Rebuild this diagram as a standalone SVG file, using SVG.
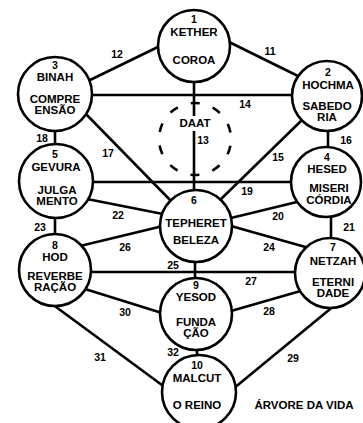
<svg xmlns="http://www.w3.org/2000/svg" width="363" height="423" viewBox="0 0 363 423">
<style>
.n{fill:#fff;stroke:#000;stroke-width:2.6}
.c line{stroke:#000;stroke-width:2.6}
text{font-family:"Liberation Sans",Arial,sans-serif;font-weight:bold;fill:#000;text-anchor:middle}
.t{font-size:11.5px}
.k{font-size:10.5px}
.l{font-size:10.5px}
</style>
<rect width="363" height="423" fill="#fff"/>
<g class="c" id="connectors">
<line x1="225" y1="40" x2="300" y2="77"/>
<line x1="162" y1="45" x2="88" y2="81"/>
<line x1="85" y1="95" x2="295" y2="95"/>
<line x1="194" y1="80" x2="194" y2="116"/>
<line x1="194" y1="131" x2="194" y2="192"/>
<line x1="328" y1="128" x2="328" y2="150"/>
<line x1="55" y1="128" x2="55" y2="147"/>
<line x1="83" y1="111" x2="172" y2="202"/>
<line x1="302" y1="120" x2="219" y2="201"/>
<line x1="88" y1="182" x2="295" y2="182"/>
<line x1="87" y1="199" x2="163" y2="214"/>
<line x1="301" y1="201" x2="231" y2="218"/>
<line x1="80" y1="246" x2="163" y2="226"/>
<line x1="231" y1="226" x2="309" y2="248"/>
<line x1="55" y1="215" x2="55" y2="237"/>
<line x1="331" y1="214" x2="331" y2="240"/>
<line x1="88" y1="272" x2="300" y2="272"/>
<line x1="195" y1="260" x2="195" y2="280"/>
<line x1="85" y1="289" x2="162" y2="313"/>
<line x1="231" y1="311" x2="304" y2="290"/>
<line x1="197" y1="348" x2="197" y2="358"/>
<line x1="52" y1="304" x2="166" y2="388"/>
<line x1="335" y1="305" x2="233" y2="389"/>
<circle cx="195" cy="139" r="36" fill="none" stroke="#000" stroke-width="2.6" stroke-dasharray="9 13.62" stroke-dashoffset="-6.81"/>
</g>
<g id="daat"><text class="t" x="195" y="127">DAAT</text></g>
<g id="kether"><circle class="n" cx="194" cy="46" r="36"/><text class="k" x="194" y="23">1</text><text class="t" x="194" y="36">KETHER</text><text class="t" x="194" y="64">COROA</text></g>
<g id="binah"><circle class="n" cx="55" cy="94" r="37"/><text class="k" x="55" y="69">3</text><text class="t" x="55" y="81">BINAH</text><text class="t" x="55" y="103">COMPRE</text><text class="t" x="55" y="114">ENSÃO</text></g>
<g id="hochma"><circle class="n" cx="327" cy="96" r="35"/><text class="k" x="328" y="76">2</text><text class="t" x="328" y="89">HOCHMA</text><text class="t" x="327" y="110">SABEDO</text><text class="t" x="327" y="121">RIA</text></g>
<g id="gevura"><circle class="n" cx="56" cy="181" r="37"/><text class="k" x="55" y="158">5</text><text class="t" x="56" y="171">GEVURA</text><text class="t" x="57" y="194">JULGA</text><text class="t" x="57" y="205">MENTO</text></g>
<g id="hesed"><circle class="n" cx="326" cy="182" r="35"/><text class="k" x="327" y="161">4</text><text class="t" x="327" y="173">HESED</text><text class="t" x="329" y="192">MISERI</text><text class="t" x="329" y="204">CÓRDIA</text></g>
<g id="tepheret"><circle class="n" cx="196" cy="226" r="36"/><text class="k" x="194" y="204">6</text><text class="t" x="196" y="227">TEPHERET</text><text class="t" x="196" y="244">BELEZA</text></g>
<g id="hod"><circle class="n" cx="55" cy="270" r="36"/><text class="k" x="55" y="249">8</text><text class="t" x="55" y="261">HOD</text><text class="t" x="55" y="280">REVERBE</text><text class="t" x="55" y="291">RAÇÃO</text></g>
<g id="netzah"><circle class="n" cx="330" cy="273" r="35"/><text class="k" x="333" y="251">7</text><text class="t" x="333" y="265">NETZAH</text><text class="t" x="333" y="286">ETERNI</text><text class="t" x="333" y="297">DADE</text></g>
<g id="yesod"><circle class="n" cx="196" cy="314" r="36"/><text class="k" x="196" y="289">9</text><text class="t" x="196" y="301">YESOD</text><text class="t" x="196" y="326">FUNDA</text><text class="t" x="196" y="337">ÇÃO</text></g>
<g id="malcut"><circle class="n" cx="199" cy="392" r="37"/><text class="k" x="197" y="369">10</text><text class="t" x="197" y="382">MALCUT</text><text class="t" x="197" y="409">O REINO</text></g>
<g id="labels">
<text class="l" x="117" y="58">12</text>
<text class="l" x="270" y="55">11</text>
<text class="l" x="245" y="108">14</text>
<text class="l" x="203" y="144">13</text>
<text class="l" x="42" y="142">18</text>
<text class="l" x="346" y="144">16</text>
<text class="l" x="108" y="157">17</text>
<text class="l" x="278" y="161">15</text>
<text class="l" x="247" y="195">19</text>
<text class="l" x="118" y="219">22</text>
<text class="l" x="278" y="220">20</text>
<text class="l" x="40" y="231">23</text>
<text class="l" x="349" y="231">21</text>
<text class="l" x="125" y="251">26</text>
<text class="l" x="269" y="251">24</text>
<text class="l" x="173" y="269">25</text>
<text class="l" x="251" y="285">27</text>
<text class="l" x="125" y="316">30</text>
<text class="l" x="269" y="315">28</text>
<text class="l" x="173" y="356">32</text>
<text class="l" x="100" y="361">31</text>
<text class="l" x="293" y="362">29</text>
<text class="t" x="304" y="409">ÁRVORE DA VIDA</text>
</g>
</svg>
